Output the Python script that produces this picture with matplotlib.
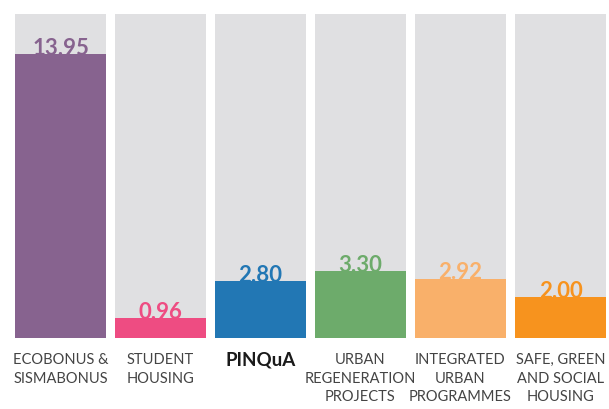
import matplotlib.pyplot as plt

categories = ['ECOBONUS &\nSISMABONUS', 'STUDENT\nHOUSING', 'PINQuA',
              'URBAN\nREGENERATION\nPROJECTS', 'INTEGRATED\nURBAN\nPROGRAMMES',
              'SAFE, GREEN\nAND SOCIAL\nHOUSING']
values = [13.95, 0.96, 2.80, 3.30, 2.92, 2.00]
colors = ['#87638f', '#ee4c82', '#2277b4', '#6dab6b', '#f9b06a', '#f7931e']

font = ['Lato', 'DejaVu Sans']

fig = plt.figure(figsize=(6.09, 4.09), dpi=100)
ax = fig.add_axes([0, 0, 1, 1])
x = list(range(len(values)))

# grey background columns
ax.bar(x, [15.9] * len(values), width=0.91, color='#e0e0e2', zorder=1)
for i, v in enumerate(values):
    ax.text(i, v - 0.04, f'{v:.2f}', ha='center', va='baseline', fontsize=16,
            fontweight='bold', color=colors[i], family=font, zorder=2)
ax.bar(x, values, width=0.91, color=colors, zorder=3)

for i, c in enumerate(categories):
    if c == 'PINQuA':
        ax.text(i, -0.68, c, ha='center', va='top', fontsize=13.5, fontweight='bold',
                color='#1a1a1a', family=font)
    else:
        ax.text(i, -0.75, c, ha='center', va='top', fontsize=10.5, color='#444444',
                family=font, linespacing=1.42)

ax.set_xlim(-0.605, 5.485)
ax.set_ylim(-3.49, 16.6)
ax.axis('off')
fig.savefig('out.png', dpi=100)
